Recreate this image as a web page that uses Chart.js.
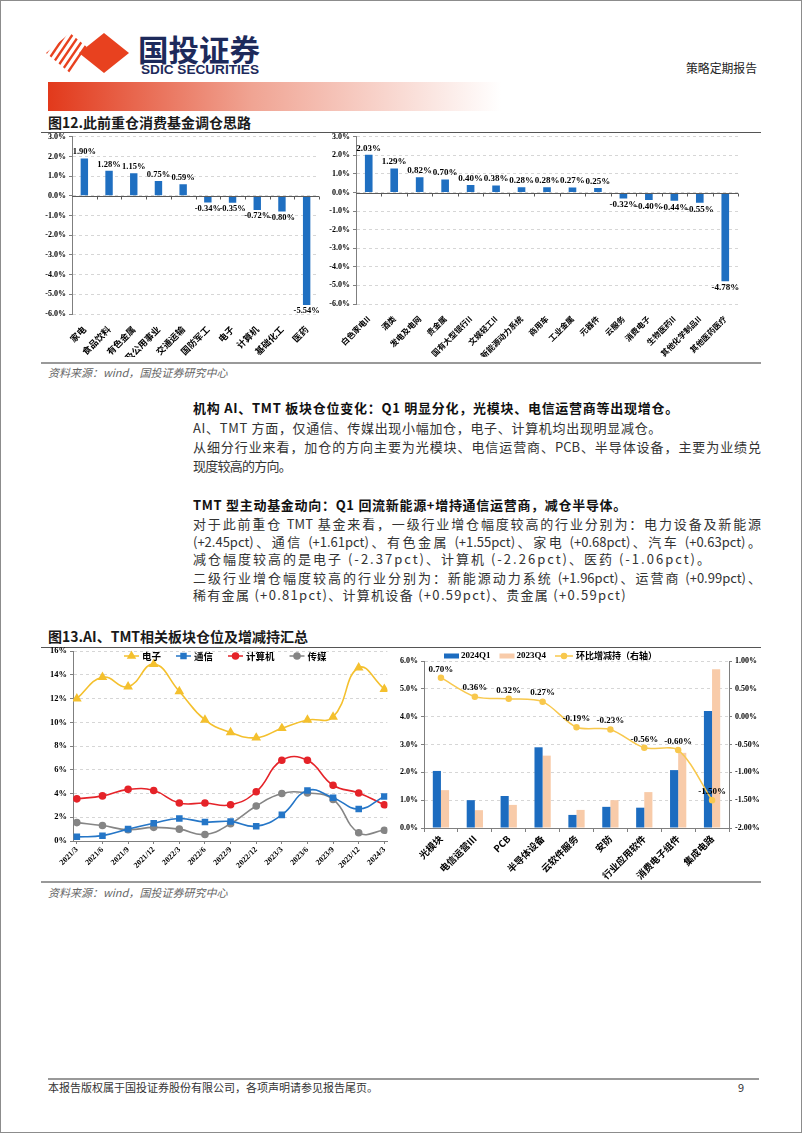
<!DOCTYPE html>
<html>
<head>
<meta charset="utf-8">
<script src="https://cdn.jsdelivr.net/npm/chart.js@4.4.1/dist/chart.umd.min.js"></script>
<style>
  body { margin: 0; background: #fff; }
  #page { position: relative; width: 802px; height: 1133px; box-sizing: border-box; border: 1px solid #8c8c8c; overflow: hidden; font-family: 'Noto Sans CJK SC', sans-serif; background: #fff; }
  .abs { position: absolute; }
  .txt { position: absolute; left: 192px; white-space: nowrap; font-size: 13px; line-height: 18px; color: #333; }
  .b { font-weight: bold; color: #111; }
  .just { width: 568px; text-align: justify; text-align-last: justify; }
  .cap { position: absolute; left: 47px; font-size: 14px; line-height: 18px; font-weight: bold; color: #1a1a1a; white-space: nowrap; }
  .src { position: absolute; left: 47px; font-size: 11px; line-height: 14px; font-style: italic; color: #666; white-space: nowrap; }
  .rule { position: absolute; left: 40px; width: 720px; }
  .box { position: absolute; }
</style>
</head>
<body>
<div id="page">
  <svg class="abs" style="left:0;top:0" width="802" height="130">
    <defs>
      <linearGradient id="bar" x1="0" x2="1" y1="0" y2="0">
        <stop offset="0" stop-color="#e2391b"/>
        <stop offset="0.45" stop-color="#f0a493"/>
        <stop offset="1" stop-color="#ffffff"/>
      </linearGradient>
      <clipPath id="stripeClip"><polygon points="45,52 69,32 93,52 69,72"/></clipPath>
    </defs>
    <g clip-path="url(#stripeClip)" stroke="#e8411f" stroke-width="2.4">
      <line x1="30" y1="74" x2="60" y2="30"/>
      <line x1="37" y1="74" x2="67" y2="30"/>
      <line x1="44" y1="74" x2="74" y2="30"/>
      <line x1="51" y1="74" x2="81" y2="30"/>
      <line x1="58" y1="74" x2="88" y2="30"/>
      <line x1="65" y1="74" x2="95" y2="30"/>
    </g>
    <polygon points="103,32 128,52 103,72 78,52" fill="#e8411f"/>
    <text x="137" y="60" font-size="30" font-weight="bold" fill="#1d2a5b" font-family="'Noto Sans CJK SC'" textLength="122" lengthAdjust="spacingAndGlyphs">国投证券</text>
    <text x="140" y="73" font-size="12.5" font-weight="bold" fill="#1d2a5b" font-family="'Liberation Sans', Arial" textLength="118" lengthAdjust="spacingAndGlyphs">SDIC SECURITIES</text>
    <text x="685" y="72" font-size="12" fill="#222" font-family="'Noto Sans CJK SC'" textLength="71" lengthAdjust="spacingAndGlyphs">策略定期报告</text>
    <rect x="47" y="81" width="453" height="29" fill="url(#bar)"/>
  </svg>

  <div class="cap" style="top:112px">图12.此前重仓消费基金调仓思路</div>
  <div class="rule" style="top:131px;border-top:1px solid #555"></div>

  <div class="rule" style="top:361px;border-top:2px solid #999"></div>
  <div class="src" style="top:364px">资料来源：wind，国投证券研究中心</div>

  <div class="box" style="left:40px;top:128px;width:282px;height:232px"><canvas id="c1"></canvas></div>
  <div class="box" style="left:322px;top:128px;width:440px;height:236px"><canvas id="c2"></canvas></div>

  <div class="txt b" data-end="678" style="top:398px">机构 AI、TMT 板块仓位变化：Q1 明显分化，光模块、电信运营商等出现增仓。</div>
  <div class="txt" data-end="661" style="top:418px">AI、TMT 方面，仅通信、传媒出现小幅加仓，电子、计算机均出现明显减仓。</div>
  <div class="txt just" style="top:437px">从细分行业来看，加仓的方向主要为光模块、电信运营商、PCB、半导体设备，主要为业绩兑</div>
  <div class="txt" data-end="290" style="top:456px">现度较高的方向。</div>
  <div class="txt b" data-end="626" style="top:495px">TMT 型主动基金动向：Q1 回流新能源+增持通信运营商，减仓半导体。</div>
  <div class="txt just" style="top:514px">对于此前重仓 TMT 基金来看，一级行业增仓幅度较高的行业分别为：电力设备及新能源</div>
  <div class="txt just" style="top:532px">(+2.45pct)、通信 (+1.61pct)、有色金属 (+1.55pct)、家电 (+0.68pct)、汽车 (+0.63pct)。</div>
  <div class="txt" data-end="711" style="top:549px">减仓幅度较高的是电子 (-2.37pct)、计算机 (-2.26pct)、医药 (-1.06pct)。</div>
  <div class="txt just" style="top:568px">二级行业增仓幅度较高的行业分别为：新能源动力系统 (+1.96pct)、运营商 (+0.99pct)、</div>
  <div class="txt" data-end="626" style="top:585px">稀有金属 (+0.81pct)、计算机设备 (+0.59pct)、贵金属 (+0.59pct)</div>

  <div class="cap" style="top:626px">图13.AI、TMT相关板块仓位及增减持汇总</div>
  <div class="rule" style="top:646px;border-top:1px solid #555"></div>

  <div class="rule" style="top:880px;border-top:2px solid #999"></div>
  <div class="src" style="top:884px">资料来源：wind，国投证券研究中心</div>

  <div class="box" style="left:40px;top:642px;width:352px;height:238px"><canvas id="c3"></canvas></div>
  <div class="box" style="left:392px;top:647px;width:370px;height:233px"><canvas id="c4"></canvas></div>

  <div class="abs" style="left:47px;top:1077px;width:711px;border-top:2px solid #999"></div>
  <div class="abs" style="left:47px;top:1079px;font-size:11px;line-height:14px;color:#333;white-space:nowrap">本报告版权属于国投证券股份有限公司，各项声明请参见报告尾页。</div>
  <div class="abs" style="left:737px;top:1079px;font-size:11px;line-height:14px;color:#333">9</div>
</div>

<script>
// 图12 左：此前重仓消费基金 一级行业仓位变化
const consumerIndustries = ['家电', '食品饮料', '有色金属', '电力及公用事业', '交通运输', '国防军工', '电子', '计算机', '基础化工', '医药'];
const consumerIndustryChange = [1.90, 1.28, 1.15, 0.75, 0.59, -0.34, -0.35, -0.72, -0.80, -5.54];

// 图12 右：二级行业仓位变化
const consumerSubIndustries = ['白色家电II', '酒类', '发电及电网', '贵金属', '国有大型银行II', '文娱轻工II', '新能源动力系统', '商用车', '工业金属', '元器件', '云服务', '消费电子', '生物医药II', '其他化学制品II', '其他医药医疗'];
const consumerSubChange = [2.03, 1.29, 0.82, 0.70, 0.40, 0.38, 0.28, 0.28, 0.27, 0.25, -0.32, -0.40, -0.44, -0.55, -4.78];

// 图13 左：AI、TMT 板块仓位
const quarterLabels = ['2021/3', '2021/6', '2021/9', '2021/12', '2022/3', '2022/6', '2022/9', '2022/12', '2023/3', '2023/6', '2023/9', '2023/12', '2024/3'];
const electronics = [12.0, 13.8, 13.0, 14.9, 12.6, 10.2, 9.15, 8.7, 9.5, 10.2, 10.45, 14.6, 12.8];
const telecom = [0.35, 0.45, 1.0, 1.5, 1.9, 1.6, 1.65, 1.25, 2.2, 4.25, 3.65, 2.7, 3.75];
const computer = [3.55, 3.8, 4.35, 4.25, 3.2, 3.2, 3.05, 4.15, 6.8, 6.8, 4.7, 4.05, 3.05];
const media = [1.55, 1.3, 0.95, 1.15, 1.0, 0.55, 1.45, 2.95, 4.0, 4.05, 3.5, 0.7, 0.9];

// 图13 右：细分板块仓位及环比
const tmtSegments = ['光模块', '电信运营III', 'PCB', '半导体设备', '云软件服务', '安防', '行业应用软件', '消费电子组件', '集成电路'];
const weight2024Q1 = [2.05, 1.0, 1.15, 2.9, 0.47, 0.76, 0.73, 2.08, 4.2];
const weight2023Q4 = [1.36, 0.64, 0.83, 2.6, 0.65, 1.0, 1.29, 2.7, 5.7];
const qoqChange = [0.70, 0.36, 0.32, 0.27, -0.19, -0.23, -0.56, -0.60, -1.50];

// stretch body lines to the widths of the printed page
document.querySelectorAll('.txt[data-end]').forEach(el => {
    const target = +el.dataset.end - 192;
    const natural = el.getBoundingClientRect().width;
    const n = el.textContent.length;
    el.style.letterSpacing = ((target - natural) / n).toFixed(3) + 'px';
});

const SERIF = "'Liberation Serif', 'Times New Roman', serif";
const CJK = "'Noto Sans CJK SC', sans-serif";
const BLUE = '#1f6fc1';

Chart.defaults.font.family = SERIF;
Chart.defaults.font.weight = 'bold';
Chart.defaults.font.size = 8;
Chart.defaults.color = '#000';
Chart.defaults.animation = false;
Chart.defaults.responsive = true;
Chart.defaults.maintainAspectRatio = false;
Chart.defaults.events = [];
Chart.defaults.plugins.legend.display = false;
Chart.defaults.plugins.tooltip.enabled = false;

// value labels above (or below, for negative bars) each mark
const valueLabels = {
    id: 'valueLabels',
    afterDatasetsDraw(chart, args, opts) {
        if (!opts.datasets) return;
        const ctx = chart.ctx;
        ctx.save();
        ctx.font = opts.font;
        ctx.fillStyle = '#000';
        ctx.textAlign = 'center';
        opts.datasets.forEach(di => {
            const meta = chart.getDatasetMeta(di);
            const values = chart.data.datasets[di].data;
            meta.data.forEach((el, i) => {
                const v = values[i];
                const txt = v.toFixed(2) + '%';
                if (meta.type === 'bar' && v < 0) {
                    ctx.textBaseline = 'top';
                    ctx.fillText(txt, el.x, el.y + opts.gap);
                } else {
                    ctx.textBaseline = 'bottom';
                    ctx.fillText(txt, el.x, el.y - opts.gap);
                }
            });
        });
        ctx.restore();
    }
};

// solid axis line at 0 with small ticks between categories
const zeroAxis = {
    id: 'zeroAxis',
    afterDatasetsDraw(chart) {
        const { ctx, chartArea: a, scales: { x, y } } = chart;
        const y0 = Math.round(y.getPixelForValue(0)) + 0.5;
        const n = chart.data.labels.length;
        const step = (a.right - a.left) / n;
        ctx.save();
        ctx.strokeStyle = '#595959';
        ctx.lineWidth = 1;
        ctx.beginPath();
        ctx.moveTo(a.left, y0);
        ctx.lineTo(a.right, y0);
        for (let i = 1; i <= n; i++) {
            const tx = Math.round(x.getPixelForValue(i - 1) + step / 2) + 0.5;
            ctx.moveTo(tx, y0);
            ctx.lineTo(tx, y0 + 3);
        }
        ctx.stroke();
        ctx.restore();
    }
};

// legend drawn inside the plot, in the style of the source workbook
const inlineLegend = {
    id: 'inlineLegend',
    afterDraw(chart, args, opts) {
        const ctx = chart.ctx;
        let x = chart.chartArea.left + opts.startX;
        const y = opts.y;
        ctx.save();
        ctx.textBaseline = 'middle';
        chart.data.datasets.forEach(ds => {
            const isBar = (ds.type || chart.config.type) === 'bar';
            if (isBar) {
                ctx.fillStyle = ds.backgroundColor;
                ctx.fillRect(x, y - 2.5, 15, 5);
                x += 17;
            } else {
                const w = opts.lineWidth || 15;
                ctx.strokeStyle = ds.borderColor;
                ctx.lineWidth = 1.5;
                ctx.beginPath();
                ctx.moveTo(x, y);
                ctx.lineTo(x + w, y);
                ctx.stroke();
                ctx.fillStyle = ds.borderColor;
                Chart.helpers.drawPoint(ctx, { pointStyle: ds.pointStyle || 'circle', radius: ds.pointRadius, borderWidth: 1, rotation: 0 }, x + w / 2, y);
                x += w + 3;
            }
            const cjk = /[\u4e00-\u9fff]/.test(ds.label);
            ctx.font = 'bold ' + opts.fontSize + 'px ' + (cjk ? CJK : SERIF);
            ctx.fillStyle = '#000';
            ctx.fillText(ds.label, x, y);
            x += ctx.measureText(ds.label).width + opts.gap;
        });
        ctx.restore();
    }
};

const yGrid = { color: '#d6d6d6', tickLength: 3, tickColor: '#7f7f7f' };
const yBorder = { color: '#7f7f7f', dash: [3, 3] };
const pct1 = v => v.toFixed(1) + '%';

function barConfig(labels, values, opts) {
    return {
        type: 'bar',
        data: {
            labels: labels,
            datasets: [{ data: values, backgroundColor: BLUE, categoryPercentage: 1, barPercentage: 0.3 }]
        },
        options: {
            layout: { padding: opts.padding },
            plugins: { valueLabels: { datasets: [0], font: 'bold ' + opts.labelSize + 'px ' + SERIF, gap: 2 } },
            scales: {
                x: {
                    grid: { display: false },
                    border: { display: false },
                    ticks: { font: { family: CJK, size: opts.catSize, weight: 'bold' }, minRotation: 45, maxRotation: 45, padding: 2, autoSkip: false },
                    afterFit: s => { s.height = opts.xHeight; }
                },
                y: {
                    min: -6, max: 3,
                    ticks: { stepSize: 1, callback: pct1, padding: 3 },
                    grid: yGrid, border: yBorder,
                    afterFit: s => { s.width = opts.yWidth; }
                }
            }
        },
        plugins: [zeroAxis, valueLabels]
    };
}

new Chart(document.getElementById('c1'), barConfig(consumerIndustries, consumerIndustryChange,
    { padding: { top: 0, right: 4, bottom: 4 }, labelSize: 8.5, catSize: 9, xHeight: 43, yWidth: 31 }));
new Chart(document.getElementById('c2'), barConfig(consumerSubIndustries, consumerSubChange,
    { padding: { top: 0, right: 25, bottom: 8 }, labelSize: 9, catSize: 8, xHeight: 53, yWidth: 33 }));

function lineSeries(label, values, color, style, radius) {
    return {
        label: label,
        data: values.map((v, i) => ({ x: i, y: v })),
        borderColor: color, backgroundColor: color,
        pointBackgroundColor: color, pointBorderColor: color,
        pointStyle: style, pointRadius: radius, borderWidth: 1.6, tension: 0.45
    };
}

new Chart(document.getElementById('c3'), {
    type: 'line',
    data: {
        datasets: [
            lineSeries('电子', electronics, '#f4c02e', 'triangle', 4),
            lineSeries('通信', telecom, '#2576c7', 'rect', 3.5),
            lineSeries('计算机', computer, '#e52329', 'circle', 3),
            lineSeries('传媒', media, '#858585', 'circle', 3)
        ]
    },
    options: {
        layout: { padding: { top: 0, right: 4 } },
        plugins: { inlineLegend: { startX: 51, y: 13, gap: 15, fontSize: 9.5, lineWidth: 15 } },
        scales: {
            x: {
                type: 'linear', min: -0.15, max: 12.12,
                afterBuildTicks: s => { s.ticks = quarterLabels.map((q, i) => ({ value: i })); },
                ticks: { callback: v => quarterLabels[v], minRotation: 45, maxRotation: 45, padding: 1, font: { size: 8 } },
                grid: { drawOnChartArea: false, tickLength: 3, color: '#7f7f7f' },
                border: { color: '#7f7f7f' },
                afterFit: s => { s.height = 40; }
            },
            y: {
                min: 0, max: 16,
                ticks: { stepSize: 2, callback: v => v + '%', padding: 3, font: { size: 8.5 } },
                grid: yGrid, border: yBorder,
                afterFit: s => { s.width = 32; }
            }
        }
    },
    plugins: [inlineLegend]
});

new Chart(document.getElementById('c4'), {
    type: 'bar',
    data: {
        labels: tmtSegments,
        datasets: [
            { label: '2024Q1', data: weight2024Q1, backgroundColor: '#1c6cc0', categoryPercentage: 0.48, barPercentage: 1, order: 1 },
            { label: '2023Q4', data: weight2023Q4, backgroundColor: '#f8cba9', categoryPercentage: 0.48, barPercentage: 1, order: 1 },
            { type: 'line', label: '环比增减持（右轴）', data: qoqChange, yAxisID: 'y1', borderColor: '#f8c84d', backgroundColor: '#f8c84d',
              pointBackgroundColor: '#f8c84d', pointBorderColor: '#f8c84d', pointRadius: 2.5, borderWidth: 1.5, tension: 0.3, order: 0 }
        ]
    },
    options: {
        layout: { padding: { top: 13, right: 0 } },
        plugins: {
            valueLabels: { datasets: [2], font: 'bold 9px ' + SERIF, gap: 4 },
            inlineLegend: { startX: 20, y: 8, gap: 9, fontSize: 9, lineWidth: 18 }
        },
        scales: {
            x: {
                grid: { offset: true, drawOnChartArea: false, tickLength: 4, color: '#7f7f7f' },
                border: { color: '#7f7f7f' },
                ticks: { font: { family: CJK, size: 9.5, weight: 'bold' }, minRotation: 45, maxRotation: 45, padding: 1, autoSkip: false },
                afterFit: s => { s.height = 53; }
            },
            y: {
                min: 0, max: 6,
                ticks: { stepSize: 1, callback: pct1, padding: 3 },
                grid: yGrid, border: yBorder,
                afterFit: s => { s.width = 31; }
            },
            y1: {
                position: 'right', min: -2, max: 1,
                ticks: { stepSize: 0.5, callback: v => v.toFixed(2) + '%', padding: 3 },
                grid: { drawOnChartArea: false, tickLength: 3, color: '#7f7f7f' },
                border: { color: '#7f7f7f' },
                afterFit: s => { s.width = 34; }
            }
        }
    },
    plugins: [valueLabels, inlineLegend]
});
</script>
</body>
</html>
